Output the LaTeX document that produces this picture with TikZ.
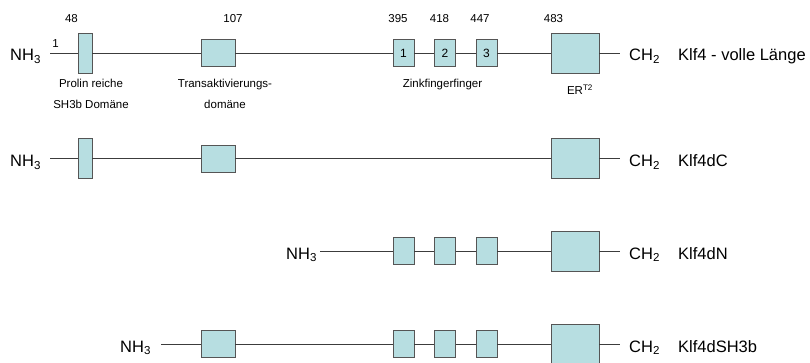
\documentclass[tikz,border=0pt]{standalone}
\usepackage{fontspec}
\setmainfont{Liberation Sans}
\usetikzlibrary{positioning}

\definecolor{boxfill}{RGB}{183,222,225}
\definecolor{boxline}{RGB}{85,85,85}
\definecolor{chaincol}{RGB}{60,60,60}

\tikzset{
    dom/.style={draw=boxline, fill=boxfill, line width=0.9pt, inner sep=0pt},
    prolin/.style={dom, minimum width=14pt, minimum height=40pt},
    transakt/.style={dom, minimum width=34pt, minimum height=27pt},
    zinc/.style={dom, minimum width=21pt, minimum height=27pt, font=\fontsize{12}{14}\selectfont},
    erbox/.style={dom, minimum width=48pt, minimum height=40pt},
    term/.style={inner sep=0pt, anchor=base west, font=\fontsize{16.5}{19}\selectfont},
    lbl/.style={inner sep=0pt, anchor=base, font=\fontsize{11.5}{13}\selectfont},
    backbone/.style={draw=chaincol, line width=0.9pt},
}

\begin{document}
\begin{tikzpicture}[x=1pt, y=-1pt]
    \useasboundingbox (0,0) rectangle (810,363);

    % Klf4 - volle Laenge
    \node[prolin]           (a48)   at (85,53)    {};
    \node[transakt]         (a107)  at (218,53)   {};
    \node[zinc]             (az1)   at (403.5,53) {1};
    \node[zinc]             (az2)   at (445,53)   {2};
    \node[zinc]             (az3)   at (486.5,53) {3};
    \node[erbox]            (aer)   at (575,53)   {};
    \node[term]             (anh)   at (10,60.5)  {NH\textsubscript{3}};
    \node[term]             (ach)   at (629,60.5) {CH\textsubscript{2}};
    \node[term]             (aname) at (678,60.5) {Klf4 - volle Länge};

    % positions and domain names
    \node[lbl] (p1)   at (55.5,48)  {1};
    \node[lbl] (p48)  at (71.5,22.5) {48};
    \node[lbl] (p107) at (233,22.5) {107};
    \node[lbl] (p395) at (398,22.5) {395};
    \node[lbl] (p418) at (439.5,22.5) {418};
    \node[lbl] (p447) at (480,22.5) {447};
    \node[lbl] (p483) at (553.5,22.5) {483};
    \node[lbl] (tprolin) at (91,88)   {Prolin reiche};
    \node[lbl] (tsh)     at (91,109)  {SH3b Domäne};
    \node[lbl] (tta)     at (225,88)  {Transaktivierungs-};
    \node[lbl] (tdom)    at (225,109) {domäne};
    \node[lbl] (tzinc)   at (442.5,88) {Zinkfingerfinger};
    \node[lbl] (ter)     at (580,95)  {ER\textsuperscript{T2}};

    % Klf4dC
    \node[prolin]           (b48)   at (85,158.5)  {};
    \node[transakt]         (b107)  at (218,158.5) {};
    \node[erbox]            (ber)   at (575,158.5) {};
    \node[term]             (bnh)   at (10,166.5)  {NH\textsubscript{3}};
    \node[term]             (bch)   at (629,166.5) {CH\textsubscript{2}};
    \node[term]             (bname) at (678,166.5) {Klf4dC};

    % Klf4dN
    \node[zinc]             (cz1)   at (403.5,251) {};
    \node[zinc]             (cz2)   at (445,251)   {};
    \node[zinc]             (cz3)   at (486.5,251) {};
    \node[erbox]            (cer)   at (575,251)   {};
    \node[term]             (cnh)   at (286,259)   {NH\textsubscript{3}};
    \node[term]             (cch)   at (629,259)   {CH\textsubscript{2}};
    \node[term]             (cname) at (678,259)   {Klf4dN};

    % Klf4dSH3b
    \node[transakt]         (d107)  at (218,344)   {};
    \node[zinc]             (dz1)   at (403.5,344) {};
    \node[zinc]             (dz2)   at (445,344)   {};
    \node[zinc]             (dz3)   at (486.5,344) {};
    \node[erbox]            (der)   at (575,344)   {};
    \node[term]             (dnh)   at (120,352)   {NH\textsubscript{3}};
    \node[term]             (dch)   at (629,352)   {CH\textsubscript{2}};
    \node[term]             (dname) at (678,352)   {Klf4dSH3b};

    % Connect nodes
    \draw[backbone, shorten <=9pt] (anh.east |- a48) -- (a48);
    \draw[backbone] (a48) -- (a107) -- (az1) -- (az2) -- (az3) -- (aer);
    \draw[backbone, shorten >=9pt] (aer) -- (ach.west |- aer);
    \draw[backbone, shorten <=9pt] (bnh.east |- b48) -- (b48);
    \draw[backbone] (b48) -- (b107) -- (ber);
    \draw[backbone, shorten >=9pt] (ber) -- (bch.west |- ber);
    \draw[backbone, shorten <=3pt] (cnh.east |- cz1) -- (cz1);
    \draw[backbone] (cz1) -- (cz2) -- (cz3) -- (cer);
    \draw[backbone, shorten >=9pt] (cer) -- (cch.west |- cer);
    \draw[backbone, shorten <=10pt] (dnh.east |- d107) -- (d107);
    \draw[backbone] (d107) -- (dz1) -- (dz2) -- (dz3) -- (der);
    \draw[backbone, shorten >=9pt] (der) -- (dch.west |- der);
\end{tikzpicture}
\end{document}
